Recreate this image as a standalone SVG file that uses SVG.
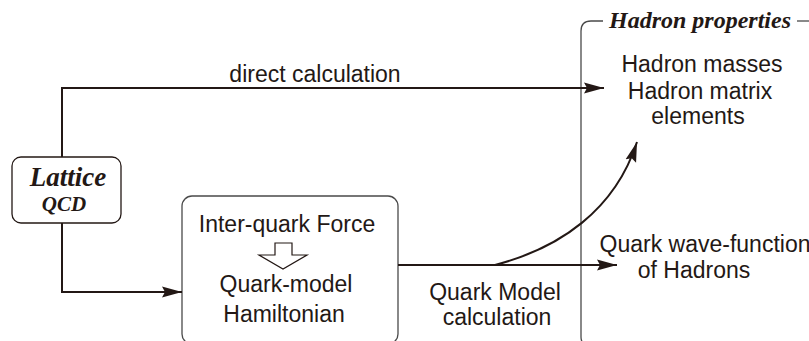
<svg xmlns="http://www.w3.org/2000/svg" width="809" height="341" viewBox="0 0 809 341">
  <style>
    .sans { font-family: "Liberation Sans", Arial, sans-serif; font-size: 23px; fill: #231815; text-anchor: middle; }
    .serif { font-family: "Liberation Serif", "Times New Roman", serif; font-weight: bold; font-style: italic; fill: #231815; text-anchor: middle; }
    .box { fill: none; stroke: #4a4a4a; stroke-width: 1.3; }
    .conn { fill: none; stroke: #231815; stroke-width: 2; }
  </style>
  <defs>
    <marker id="arr" viewBox="0 0 20 12" refX="20" refY="6" markerWidth="20" markerHeight="12" markerUnits="userSpaceOnUse" orient="auto">
      <path d="M0,0.5 L20,6 L0,11.5 L3,6 z" fill="#231815"/>
    </marker>
  </defs>
  <rect width="809" height="341" fill="#ffffff"/>

  <g id="hadron-properties">
    <path class="box" d="M603,21 H591 Q581,21 581,31 V337 Q581,345 589,345"/>
    <line class="box" x1="797" y1="21" x2="809" y2="21"/>
    <text class="serif" x="700" y="28" font-size="24">Hadron properties</text>
    <text class="sans" x="702" y="72">Hadron masses</text>
    <text class="sans" x="700" y="99" font-size="22.5">Hadron matrix</text>
    <text class="sans" x="698" y="124" font-size="22.5">elements</text>
    <text class="sans" x="705" y="252">Quark wave-function</text>
    <text class="sans" x="694" y="278">of Hadrons</text>
  </g>

  <g id="lattice-qcd">
    <rect x="12" y="157" width="109" height="66" rx="9" ry="9" fill="#ffffff" stroke="#231815" stroke-width="1.3"/>
    <text class="serif" x="68" y="186" font-size="27">Lattice</text>
    <text class="serif" x="64" y="211" font-size="21">QCD</text>
  </g>

  <g id="quark-model">
    <rect class="box" x="182" y="196" width="216" height="148" rx="10" ry="10"/>
    <text class="sans" x="287" y="232">Inter-quark Force</text>
    <polygon points="275,243 292,243 292,255 307,255 283,269 259,255 275,255" fill="#ffffff" stroke="#231815" stroke-width="1.2"/>
    <text class="sans" x="286" y="292">Quark-model</text>
    <text class="sans" x="284" y="322">Hamiltonian</text>
  </g>

  <g id="connectors">
    <path class="conn" d="M62,157 V88 H604" marker-end="url(#arr)"/>
    <path class="conn" d="M62,223 V292 H182" marker-end="url(#arr)"/>
    <path class="conn" d="M398,265 H617" marker-end="url(#arr)"/>
    <path class="conn" d="M495,265 C560,248 615,210 637,142" marker-end="url(#arr)"/>
    <text class="sans" x="315" y="82" font-size="24.5">direct calculation</text>
    <text class="sans" x="495" y="300">Quark Model</text>
    <text class="sans" x="497" y="325">calculation</text>
  </g>
</svg>
